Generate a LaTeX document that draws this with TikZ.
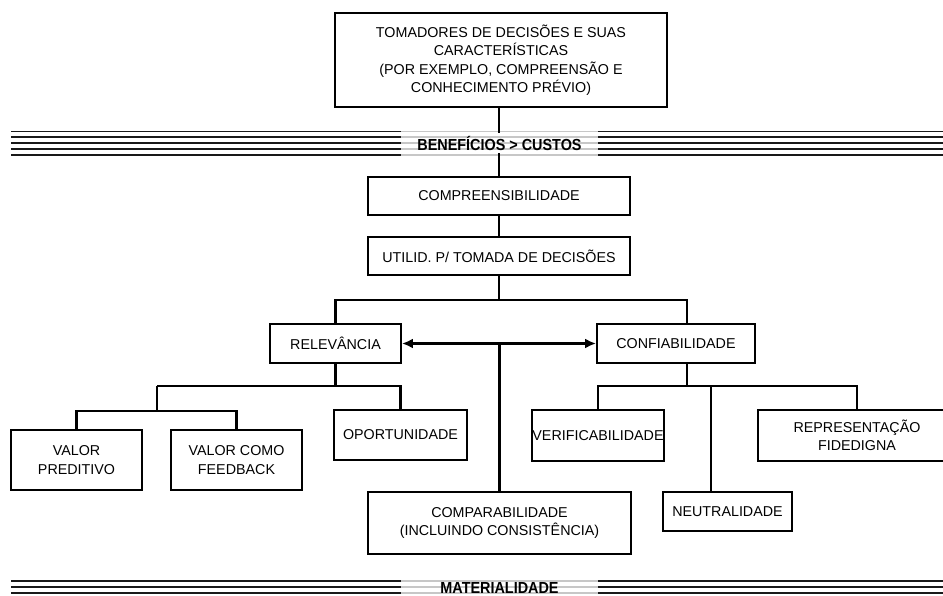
\documentclass[tikz,border=0pt]{standalone}
\usepackage{fontspec}
\setmainfont{Liberation Sans}
\newfontfamily\barfont{Liberation Sans}[FakeStretch=0.9]
\usetikzlibrary{arrows.meta}
\begin{document}
\begin{tikzpicture}[x=1pt,y=-1pt,
  box/.style={draw,line width=1.9pt,inner sep=0pt,align=center,font=\fontsize{14.3}{18.5}\selectfont},
  conn/.style={line width=2.2pt},
  barline/.style={line width=1.7pt,black!90},
  barghost/.style={line width=1.7pt,black!22},
  barlabel/.style={inner sep=0pt,minimum width=197pt,minimum height=20pt,font=\barfont\bfseries\fontsize{16}{16}\selectfont},
  dblarrow/.style={{Latex[length=11pt,width=10pt]}-{Latex[length=11pt,width=10pt]}}]
\useasboundingbox (0,0) rectangle (943,596);
\clip (0,0) rectangle (943,596);

% top box
\node[box,line width=2.7pt,minimum width=332pt,minimum height=94pt] (top) at (501,60)
  {TOMADORES DE DECISÕES E SUAS\\CARACTERÍSTICAS\\(POR EXEMPLO, COMPREENSÃO E\\CONHECIMENTO PRÉVIO)};

% bar 1
\foreach \yy in {131.5,137.3,143.1,148.9,154.7} {
  \draw[barline] (11,\yy) -- (401,\yy);
  \draw[barline] (598,\yy) -- (943,\yy);
  \draw[barghost] (401,\yy) -- (598,\yy);
}
\node[barlabel] (bar1) at (499.5,143) {BENEFÍCIOS > CUSTOS};

% bar 2
\foreach \yy in {581,587,593,599,605} {
  \draw[barline] (11,\yy) -- (401,\yy);
  \draw[barline] (598,\yy) -- (943,\yy);
  \draw[barghost] (401,\yy) -- (598,\yy);
}
\node[barlabel] (bar2) at (499.5,588) {MATERIALIDADE};

% boxes
\node[box,minimum width=262pt,minimum height=38pt] (comp) at (499,196) {COMPREENSIBILIDADE};
\node[box,minimum width=262pt,minimum height=38pt] (util) at (499,256) {UTILID. P/ TOMADA DE DECISÕES};
\node[box,minimum width=131pt,minimum height=39pt] (rel) at (335.5,343.5) {RELEVÂNCIA};
\node[box,minimum width=158pt,minimum height=39pt] (conf) at (676,343.5) {CONFIABILIDADE};
\node[box,minimum width=131pt,minimum height=60pt] (vp) at (76.5,460) {VALOR\\PREDITIVO};
\node[box,minimum width=131pt,minimum height=60pt] (fb) at (236.5,460) {VALOR COMO\\FEEDBACK};
\node[box,minimum width=133pt,minimum height=50pt] (opo) at (400.5,435) {OPORTUNIDADE};
\node[box,minimum width=130pt,minimum height=51pt] (ver) at (598,435.5) {VERIFICABILIDADE};
\node[box,minimum width=198pt,minimum height=51pt] (rep) at (857,435.5) {REPRESENTAÇÃO\\FIDEDIGNA};
\node[box,minimum width=129pt,minimum height=39pt] (neu) at (727.5,511.5) {NEUTRALIDADE};
\node[box,minimum width=263pt,minimum height=62pt] (cmpb) at (499.5,523) {COMPARABILIDADE\\(INCLUINDO CONSISTÊNCIA)};

% connectors (top part)
\draw[conn] (top.south -| comp.north) -- (bar1.north -| comp.north);
\draw[conn] (bar1.south -| comp.north) -- (comp.north);
\draw[conn] (comp.south) -- (util.north);
\coordinate (jA) at (499,300);
\coordinate (cfx) at (687,300);
\draw[conn] (util.south) -- (jA);
\draw[conn] (rel.north) |- (cfx) -- (cfx |- conf.north);

% double arrow and comparability
\draw[conn,dblarrow] (rel.east) -- (conf.west);
\draw[conn] (rel.east -| cmpb.north) -- (cmpb.north);

% relevance branch
\coordinate (hL1) at (157,386);
\coordinate (hL2) at (157,411);
\draw[conn] (rel.south) -- (rel.south |- hL1);
\draw[conn] (hL1) -- (opo.north |- hL1) -- (opo.north);
\draw[conn] (hL1) -- (hL2);
\draw[conn] (vp.north) -- (vp.north |- hL2) -- (fb.north |- hL2) -- (fb.north);

% reliability branch
\coordinate (hR) at (687,386);
\coordinate (nx) at (711,386);
\draw[conn] (conf.south -| hR) -- (hR);
\draw[conn] (ver.north) -- (ver.north |- hR) -- (rep.north |- hR) -- (rep.north);
\draw[conn] (nx) -- (nx |- neu.north);
\end{tikzpicture}
\end{document}
